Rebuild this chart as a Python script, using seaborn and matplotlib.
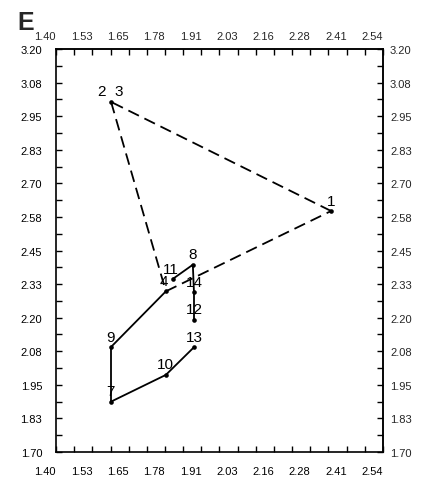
import matplotlib
matplotlib.use("Agg")
import matplotlib.pyplot as plt
import seaborn as sns
import pandas as pd
import numpy as np

# ---- data ----
point_labels = ["1", "2 3", "4", "7", "8", "9", "10", "11", "12", "13", "14"]
x_values = [2.359, 1.592, 1.783, 1.591, 1.877, 1.591, 1.783, 1.807, 1.881, 1.881, 1.881]
y_values = [2.597, 3.003, 2.298, 1.887, 2.397, 2.090, 1.987, 2.344, 2.192, 2.090, 2.294]

dashed_links = [("1", "2 3"), ("2 3", "4"), ("4", "1")]
solid_links = [("4", "9"), ("9", "7"), ("7", "10"), ("10", "13"),
               ("12", "14"), ("14", "8"), ("8", "11")]

x_tick_labels = ["1.40", "1.53", "1.65", "1.78", "1.91", "2.03", "2.16", "2.28", "2.41", "2.54"]
y_tick_labels = ["1.70", "1.83", "1.95", "2.08", "2.20", "2.33", "2.45",
                 "2.58", "2.70", "2.83", "2.95", "3.08", "3.20"]

panel_letter = "E"

# ---- build tables ----
pts = pd.DataFrame({"label": point_labels, "x": x_values, "y": y_values}).set_index("label")
rows = []
seg = 0
for kind, links in (("dashed", dashed_links), ("solid", solid_links)):
    for a, b in links:
        for p in (a, b):
            rows.append({"seg": seg, "kind": kind, "x": pts.loc[p, "x"], "y": pts.loc[p, "y"]})
        seg += 1
seg_df = pd.DataFrame(rows)

sns.set_style("ticks")
plt.rcParams["font.family"] = ["Liberation Sans", "DejaVu Sans"]

W, H = 429, 481
fig = plt.figure(figsize=(W / 100, H / 100), dpi=100)
left, right, top, bottom = 56, 383, 50, 453
ax = fig.add_axes([left / W, 1 - bottom / H, (right - left) / W, (bottom - top) / H])

sns.lineplot(data=seg_df, x="x", y="y", units="seg", estimator=None, sort=False,
             style="kind", dashes={"dashed": (6.5, 3.4), "solid": ""},
             color="black", linewidth=1.3, legend=False, ax=ax)
sns.scatterplot(data=pts.reset_index(), x="x", y="y", color="black", s=11,
                linewidth=0, legend=False, ax=ax, zorder=5)

for lab, r in pts.iterrows():
    dx = -1.5 if lab in ("4", "11") else 0
    shown = lab.replace(" ", "  ")
    ax.annotate(shown, (r["x"], r["y"]), xytext=(dx, 2.5), textcoords="offset points",
                ha="center", va="bottom", fontsize=11, color="black")

xmin, xmax = 1.40, 2.54
ymin, ymax = 1.70, 3.20
ax.set_xlim(xmin, xmax)
ax.set_ylim(ymin, ymax)

xmaj = np.linspace(xmin, xmax, len(x_tick_labels))
ymaj = np.linspace(ymin, ymax, len(y_tick_labels))
xmin_t = (xmaj[:-1] + xmaj[1:]) / 2
ymin_t = (ymaj[:-1] + ymaj[1:]) / 2

ax.set_xticks(xmaj, labels=x_tick_labels)
ax.set_xticks(xmin_t, minor=True)
ax.set_yticks(ymaj, labels=y_tick_labels)
ax.set_yticks(ymin_t, minor=True)
ax.set_xlabel("")
ax.set_ylabel("")

ax.tick_params(axis="both", which="both", direction="in", length=4, width=1.0,
               top=True, right=True, labelsize=8, colors="black")
ax.tick_params(axis="x", which="major", pad=10)
ax.tick_params(axis="y", which="major", pad=10)
for lbl in ax.get_xticklabels():
    lbl.set_ha("right")

for sp in ax.spines.values():
    sp.set_visible(True)
    sp.set_linewidth(1.2)
    sp.set_color("black")

axt = ax.secondary_xaxis("top")
axt.set_xticks(xmaj, labels=x_tick_labels)
axt.tick_params(axis="x", which="both", length=0, pad=6, labelsize=8)
for lbl in axt.get_xticklabels():
    lbl.set_ha("right")
axt.spines["top"].set_linewidth(1.2)

axr = ax.secondary_yaxis("right")
axr.set_yticks(ymaj, labels=y_tick_labels)
axr.tick_params(axis="y", which="both", length=0, pad=5, labelsize=8)
axr.spines["right"].set_linewidth(1.2)

fig.text(17 / W, 1 - 30 / H, panel_letter, fontsize=18, fontweight="bold",
         ha="left", va="baseline")

fig.savefig("out.png", dpi=100)
